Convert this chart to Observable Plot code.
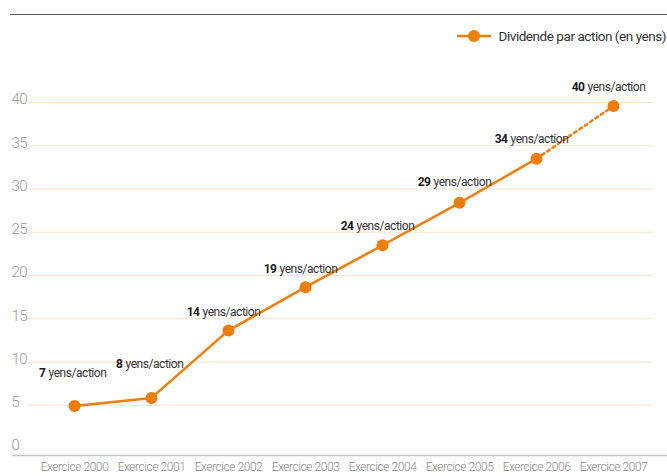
<!DOCTYPE html>
<html>
<head>
<meta charset="utf-8">
<script src="https://cdn.jsdelivr.net/npm/d3@7"></script>
<script src="https://cdn.jsdelivr.net/npm/@observablehq/plot@0.6"></script>
<style>
  html, body { margin: 0; padding: 0; background: #fff; }
  body { width: 667px; height: 476px; overflow: hidden; font-family: Roboto, sans-serif; }
  #header { position: relative; height: 60px; }
  #rule { position: absolute; left: 10px; right: 0; top: 14px; border-top: 1.5px solid #555; }
  #legend { position: absolute; right: 1px; top: 28px; display: flex; align-items: center; font-size: 13.5px; letter-spacing: -0.45px; color: #333; white-space: nowrap; }
  #legend svg { margin-right: 8px; }
  #chart svg text { letter-spacing: -0.45px; }
</style>
</head>
<body>
<div id="header">
  <div id="rule"></div>
  <div id="legend"></div>
</div>
<div id="chart"></div>
<script>
const years = ["Exercice 2000", "Exercice 2001", "Exercice 2002", "Exercice 2003", "Exercice 2004", "Exercice 2005", "Exercice 2006", "Exercice 2007"];
const plottedValues = [4.9, 5.85, 13.65, 18.65, 23.5, 28.4, 33.5, 39.6];
const labelValues = [7, 8, 14, 19, 24, 29, 34, 40];
const yTicks = [0, 5, 10, 15, 20, 25, 30, 35, 40];
const seriesName = "Dividende par action (en yens)";
const unitText = "yens/action";

const orange = "#ee7d0a";
const font = "Roboto, sans-serif";

const data = years.map((year, i) => ({year, value: plottedValues[i], label: labelValues[i]}));
const solid = data.slice(0, 7);
const dashed = data.slice(6);

// legend
const legend = document.getElementById("legend");
legend.innerHTML = `<svg width="34" height="14"><line x1="0" y1="7" x2="34" y2="7" stroke="${orange}" stroke-width="2.5"/><circle cx="17" cy="7" r="6" fill="${orange}"/></svg><span>${seriesName}</span>`;

const chart = Plot.plot({
  width: 667,
  height: 416,
  marginLeft: 28,
  marginRight: 14,
  marginTop: 42,
  marginBottom: 28,
  style: {fontFamily: font, background: "#fff"},
  x: {type: "point", domain: years, range: [73, 613], padding: 0},
  y: {domain: [0, 40]},
  marks: [
    Plot.ruleY(yTicks.filter(d => d > 0), {stroke: "#fbe2c8", strokeWidth: 1}),
    Plot.ruleY([0], {stroke: "#c4c4c4", strokeWidth: 1.5, dy: 7, insetLeft: -16, insetRight: -14}),
    Plot.axisY({ticks: yTicks, tickSize: 0, tickPadding: 0, textAnchor: "start", dx: -17, dy: -3, fontSize: 15, fontWeight: 300, fill: "#9a9a9a", label: null}),
    Plot.axisX({tickSize: 0, tickPadding: 14, fontSize: 12, fontWeight: 300, fill: "#8a8a8a", label: null}),
    Plot.line(solid, {x: "year", y: "value", stroke: orange, strokeWidth: 2.5}),
    Plot.line(dashed, {x: "year", y: "value", stroke: orange, strokeWidth: 2.5, strokeDasharray: "3,3.5"}),
    Plot.dot(data, {x: "year", y: "value", r: 6, fill: orange}),
    Plot.text(data, {x: "year", y: "label", text: d => String(d.label), textAnchor: "end", dx: -29, dy: -15, fontSize: 12, fontWeight: "bold", fill: "#1a1a1a"}),
    Plot.text(data, {x: "year", y: "label", text: () => unitText, textAnchor: "start", dx: -26, dy: -15, fontSize: 12, fill: "#333"})
  ]
});
document.getElementById("chart").appendChild(chart);
</script>
</body>
</html>
